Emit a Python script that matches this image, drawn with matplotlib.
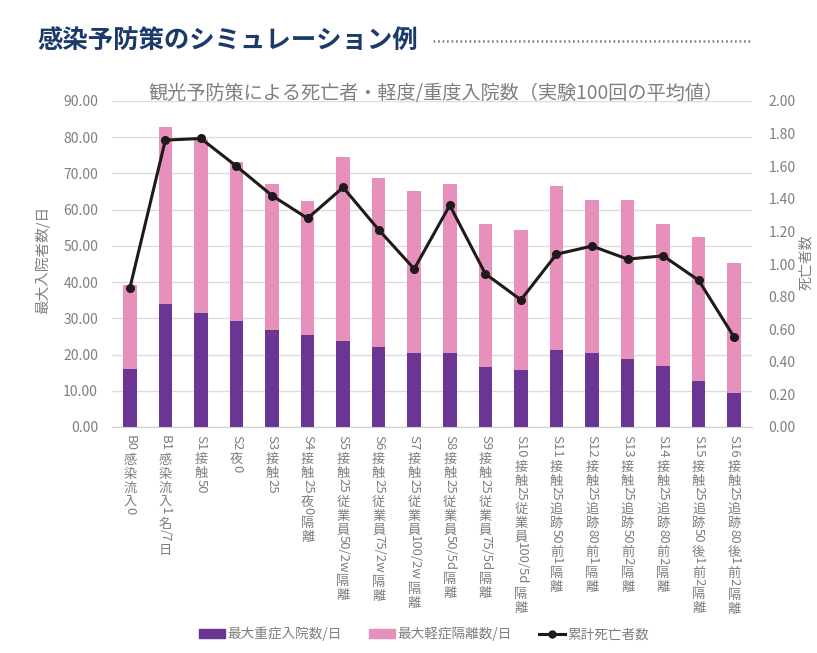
import matplotlib
matplotlib.use("Agg")
import matplotlib.pyplot as plt
from matplotlib.lines import Line2D
from matplotlib.patches import Patch
from matplotlib.font_manager import FontProperties

plt.rcParams['font.family'] = ['Noto Sans CJK JP', 'DejaVu Sans']

categories = ["B0感染流入0", "B1感染流入1名/7日", "S1接触50", "S2夜0", "S3接触25",
              "S4接触25夜0隔離", "S5接触25従業員50/2w隔離", "S6接触25従業員75/2w隔離",
              "S7接触25従業員100/2w隔離", "S8接触25従業員50/5d隔離", "S9接触25従業員75/5d隔離",
              "S10接触25従業員100/5d隔離", "S11接触25追跡50前1隔離", "S12接触25追跡80前1隔離",
              "S13接触25追跡50前2隔離", "S14接触25追跡80前2隔離", "S15接触25追跡50後1前2隔離",
              "S16接触25追跡80後1前2隔離"]
severe = [16.0, 34.0, 31.4, 29.4, 26.8, 25.4, 23.7, 22.1, 20.3, 20.5, 16.5, 15.7,
          21.3, 20.3, 18.7, 16.8, 12.7, 9.3]
total = [39.2, 82.9, 79.5, 73.2, 67.1, 62.5, 74.5, 68.7, 65.2, 67.2, 56.0, 54.4,
         66.4, 62.7, 62.8, 56.0, 52.5, 45.2]
deaths = [0.85, 1.76, 1.77, 1.60, 1.42, 1.28, 1.47, 1.21, 0.97, 1.36, 0.94, 0.78,
          1.06, 1.11, 1.03, 1.05, 0.90, 0.55]
mild = [t - s for t, s in zip(total, severe)]

left_ticks = [0, 10, 20, 30, 40, 50, 60, 70, 80, 90]
right_ticks = [0, 0.2, 0.4, 0.6, 0.8, 1.0, 1.2, 1.4, 1.6, 1.8, 2.0]

title = "感染予防策のシミュレーション例"
chart_title = "観光予防策による死亡者・軽度/重度入院数（実験100回の平均値）"
ylabel_left = "最大入院者数/日"
ylabel_right = "死亡者数"
legend_labels = ["最大重症入院数/日", "最大軽症隔離数/日", "累計死亡者数"]

PURPLE = "#6b3593"
PINK = "#e690bb"
LINE = "#1e1a1a"
GRAY = "#7f7f7f"
GRID = "#dcdcdc"
NAVY = "#1b3a6b"

W, H = 817, 653
fig = plt.figure(figsize=(W / 100, H / 100), dpi=100)
ax = fig.add_axes([112 / W, 1 - 427 / H, (752 - 112) / W, (427 - 101) / H])

x = list(range(len(categories)))
ax.bar(x, severe, width=0.38, color=PURPLE, zorder=2)
ax.bar(x, mild, bottom=severe, width=0.38, color=PINK, zorder=2)
ax.set_xlim(-0.5, len(categories) - 0.5)
ax.set_ylim(0, 90)
ax.set_yticks(left_ticks)
ax.set_yticklabels([f"{v:.2f}" for v in left_ticks])
ax.grid(axis='y', color=GRID, lw=1, zorder=0)
ax.set_axisbelow(True)
for s in ['top', 'right', 'left']:
    ax.spines[s].set_visible(False)
ax.spines['bottom'].set_color("#d0d0d0")
ax.tick_params(axis='y', length=0, colors=GRAY, labelsize=10, pad=10)
ax.tick_params(axis='x', length=0, labelbottom=False)

ax2 = ax.twinx()
ax2.plot(x, deaths, color=LINE, lw=2.2, marker='o', markersize=5.5, zorder=5)
ax2.set_ylim(0, 2.0)
ax2.set_yticks(right_ticks)
ax2.set_yticklabels([f"{v:.2f}" for v in right_ticks])
for s in ['top', 'right', 'left', 'bottom']:
    ax2.spines[s].set_visible(False)
ax2.tick_params(axis='y', length=0, colors=GRAY, labelsize=10, pad=12)

# axis labels
fig.text(43 / W, 1 - 260 / H, ylabel_left, rotation=90, ha='center', va='center',
         color=GRAY, fontsize=10.5)
fig.text(806 / W, 1 - 262 / H, ylabel_right, rotation=90, ha='center', va='center',
         color=GRAY, fontsize=10)

# titles
fig.text(37 / W, 1 - 40 / H, title, ha='left', va='center', color=NAVY,
         fontsize=18.3, fontweight='bold')
fig.add_artist(Line2D([433 / W, 752 / W], [1 - 41 / H, 1 - 41 / H],
                      color="#7c8299", lw=1.8, linestyle=(0, (0.7, 1.1))))
fig.text(436 / W, 1 - 93 / H, chart_title, ha='center', va='center', color=GRAY,
         fontsize=13.8)

# vertical x tick labels (CJK upright, latin runs rotated)
fs = 9.5
fp = FontProperties(family=['Noto Sans CJK JP', 'DejaVu Sans'], size=fs)
renderer = fig.canvas.get_renderer()


def runs_of(s):
    out = []
    for ch in s:
        cjk = ord(ch) > 0x2E80
        if cjk or not out or out[-1][1]:
            out.append([ch, cjk])
        else:
            out[-1][0] += ch
    return out


for i, lab in enumerate(categories):
    off = 8.0  # points below axis
    for run, cjk in runs_of(lab):
        if cjk:
            ax.annotate(run, xy=(i, 0), xycoords=('data', 'axes fraction'),
                        xytext=(0, -off), textcoords='offset points',
                        ha='center', va='top', color=GRAY, fontproperties=fp)
            off += fs * 1.06
        else:
            w, h, d = renderer.get_text_width_height_descent(run, fp, ismath=False)
            wpt = w * 72 / fig.dpi
            ax.annotate(run, xy=(i, 0), xycoords=('data', 'axes fraction'),
                        xytext=(0, -off + 2.0), textcoords='offset points',
                        ha='center', va='top', rotation=-90, color=GRAY,
                        fontproperties=fp)
            off += wpt

# legend
handles = [Patch(color=PURPLE), Patch(color=PINK),
           Line2D([0], [0], color=LINE, lw=2.2, marker='o', markersize=5)]
fig.legend(handles, legend_labels, loc='center', bbox_to_anchor=(424 / W, 1 - 634 / H),
           ncol=3, frameon=False, fontsize=9.8, labelcolor=GRAY, handlelength=1.9,
           handleheight=0.6, handletextpad=0.2, columnspacing=2.0)

fig.savefig("out.png", dpi=100)
